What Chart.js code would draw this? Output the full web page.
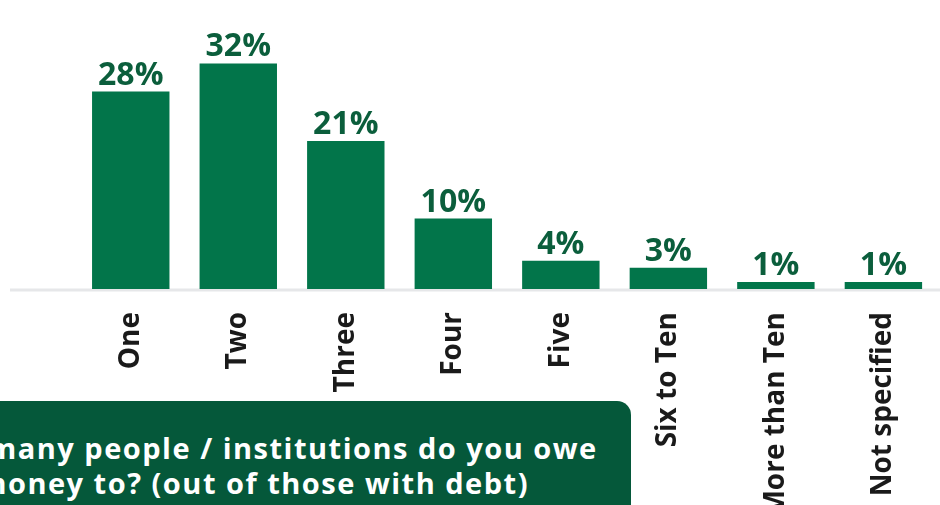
<!DOCTYPE html>
<html>
<head>
<meta charset="utf-8">
<script src="https://cdn.jsdelivr.net/npm/chart.js@4"></script>
<style>
  html, body { margin: 0; padding: 0; background: #fff; overflow: hidden; }
  body { width: 940px; height: 505px; position: relative; font-family: "Open Sans", sans-serif; }
  .chart-wrap { position: absolute; left: 0; top: 0; width: 940px; height: 505px; }
  .question {
    position: absolute; left: -124px; top: 401px; width: 755px; height: 140px;
    background: #05583a; border-radius: 14px; color: #fff;
    font-family: "Open Sans", sans-serif; font-weight: 700; font-size: 29px;
    letter-spacing: 1.5px; line-height: 35px; text-align: center;
    padding-top: 29px; box-sizing: border-box; white-space: nowrap;
  }
</style>
</head>
<body>
<div class="chart-wrap"><canvas id="debtChart"></canvas></div>
<div class="question">How many people / institutions do you owe<br>money to? (out of those with debt)</div>
<script>
// how many lenders, share of respondents with debt
const categories = ['One', 'Two', 'Three', 'Four', 'Five', 'Six to Ten', 'More than Ten', 'Not specified'];
const shares = [28, 32, 21, 10, 4, 3, 1, 1];

const barGreen = '#02754a';
const labelGreen = '#0b5e3c';

// percent labels above each bar
const valueLabels = {
  id: 'valueLabels',
  afterDatasetsDraw(chart) {
    const { ctx } = chart;
    const meta = chart.getDatasetMeta(0);
    ctx.save();
    ctx.font = '700 32px "Open Sans", sans-serif';
    ctx.fillStyle = labelGreen;
    ctx.textAlign = 'center';
    ctx.textBaseline = 'alphabetic';
    meta.data.forEach((bar, i) => {
      ctx.fillText(shares[i] + '%', bar.x, bar.y - 7);
    });
    ctx.restore();
  }
};

// light grey baseline running nearly the full width
const baseLine = {
  id: 'baseLine',
  beforeDatasetsDraw(chart) {
    const { ctx, chartArea } = chart;
    ctx.save();
    ctx.strokeStyle = '#e6e7e9';
    ctx.lineWidth = 3;
    ctx.beginPath();
    ctx.moveTo(10, chartArea.bottom + 1);
    ctx.lineTo(chart.width, chartArea.bottom + 1);
    ctx.stroke();
    ctx.restore();
  }
};

const ctx = document.getElementById('debtChart').getContext('2d');
new Chart(ctx, {
  type: 'bar',
  data: {
    labels: categories,
    datasets: [{
      data: shares,
      backgroundColor: barGreen,
      borderWidth: 0,
      categoryPercentage: 1,
      barPercentage: 0.72
    }]
  },
  options: {
    responsive: true,
    maintainAspectRatio: false,
    animation: false,
    layout: { padding: { top: 7, left: 77, right: 0, bottom: 0 } },
    plugins: {
      legend: { display: false },
      tooltip: { enabled: false }
    },
    scales: {
      x: {
        grid: { display: false, drawTicks: false },
        border: { display: false },
        ticks: {
          autoSkip: false,
          minRotation: 90,
          maxRotation: 90,
          padding: 23,
          color: '#1a1a1a',
          font: { family: '"Open Sans", sans-serif', weight: '700', size: 28 }
        },
        afterFit(axis) { axis.height = 505 - 289; }
      },
      y: {
        display: false,
        min: 0,
        max: 40
      }
    }
  },
  plugins: [baseLine, valueLabels]
});
</script>
</body>
</html>
